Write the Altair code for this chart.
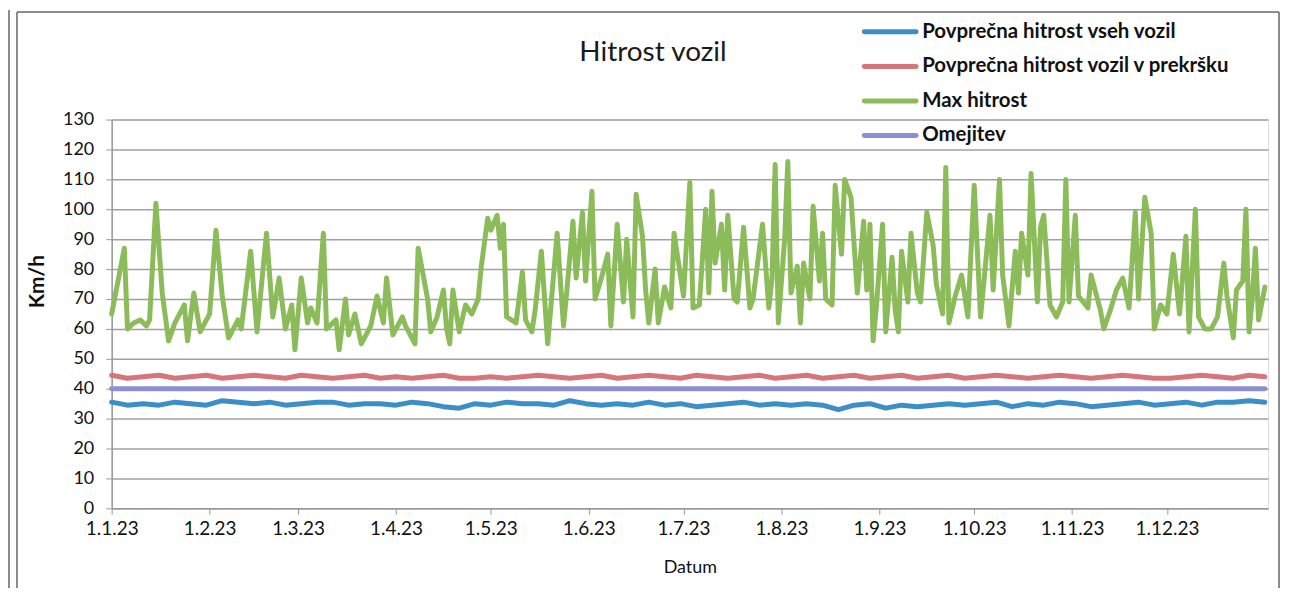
import altair as alt
import pandas as pd

# ---- data ----
chart_title = "Hitrost vozil"
series_names = [
    "Povprečna hitrost vseh vozil",
    "Povprečna hitrost vozil v prekršku",
    "Max hitrost",
    "Omejitev",
]
series_colors = ["#3b8ec8", "#d6767c", "#8cbc5a", "#8c8fd2"]

# (day of year offset from 1.1.23, km/h)
max_hitrost = [
    (0, 65), (4, 87), (5, 60), (7, 62), (9, 63), (11, 61), (12, 63), (14, 102), (16, 72), (18, 56),
    (20, 62), (23, 68), (24, 56), (26, 72), (28, 59), (31, 65), (33, 93), (35, 71), (37, 57), (40, 63),
    (41, 60), (44, 86), (46, 59), (49, 92), (51, 64), (53, 77), (55, 60), (57, 68), (58, 53), (60, 77),
    (62, 62), (63, 67), (65, 62), (67, 92), (68, 60), (71, 63), (72, 53), (74, 70), (75, 58), (77, 65),
    (79, 55), (82, 61), (84, 71), (86, 62), (87, 77), (89, 58), (92, 64), (93, 61), (96, 55), (97, 87),
    (100, 70), (101, 59), (103, 64), (105, 73), (106, 60), (107, 55), (108, 73), (110, 59), (112, 68), (114, 65),
    (116, 70), (117, 81), (119, 97), (120, 93), (122, 98), (123, 87), (124, 95), (125, 64), (128, 62), (130, 79),
    (131, 63), (133, 59), (134, 66), (136, 86), (138, 55), (141, 92), (143, 61), (144, 72), (146, 96), (147, 77),
    (149, 99), (150, 76), (152, 106), (153, 70), (155, 77), (157, 85), (158, 61), (160, 95), (162, 69), (163, 90),
    (165, 64), (166, 105), (168, 91), (169, 73), (170, 62), (172, 80), (173, 62), (175, 74), (177, 67), (178, 92),
    (181, 71), (183, 109), (184, 67), (186, 68), (188, 100), (189, 72), (190, 106), (191, 82), (193, 95), (194, 73),
    (195, 98), (197, 70), (198, 69), (200, 94), (202, 67), (203, 70), (206, 95), (208, 67), (209, 77), (210, 115),
    (211, 62), (213, 90), (214, 116), (215, 72), (217, 81), (218, 62), (219, 82), (221, 70), (222, 101), (224, 76),
    (225, 92), (226, 70), (228, 68), (229, 108), (231, 85), (232, 110), (234, 104), (236, 72), (238, 96), (239, 73),
    (240, 95), (241, 56), (242, 67), (244, 95), (245, 59), (247, 84), (248, 66), (249, 59), (250, 86), (252, 69),
    (253, 92), (255, 72), (256, 69), (258, 99), (260, 88), (261, 75), (263, 65), (264, 114), (265, 62), (267, 71),
    (269, 78), (271, 64), (273, 108), (275, 64), (276, 75), (278, 98), (279, 73), (281, 110), (282, 78), (284, 61),
    (286, 86), (287, 72), (288, 92), (290, 78), (291, 112), (293, 69), (294, 94), (295, 98), (297, 68), (299, 64),
    (301, 69), (302, 110), (303, 69), (305, 98), (306, 71), (309, 67), (310, 78), (313, 66), (314, 60), (316, 66),
    (318, 73), (320, 77), (322, 67), (324, 99), (325, 70), (327, 104), (329, 92), (330, 60), (332, 68), (334, 65),
    (336, 85), (338, 65), (340, 91), (341, 59), (343, 100), (344, 64), (346, 60), (348, 60), (350, 64), (352, 82),
    (353, 71), (355, 57), (356, 73), (358, 76), (359, 100), (360, 59), (361, 70), (362, 87), (363, 63), (365, 74),
]

avg_days = list(range(0, 361, 5)) + [365]
avg_all = [
    35.5, 34.5, 35, 34.5, 35.5, 35, 34.5, 36, 35.5, 35,
    35.5, 34.5, 35, 35.5, 35.5, 34.5, 35, 35, 34.5, 35.5,
    35, 34, 33.5, 35, 34.5, 35.5, 35, 35, 34.5, 36,
    35, 34.5, 35, 34.5, 35.5, 34.5, 35, 34, 34.5, 35,
    35.5, 34.5, 35, 34.5, 35, 34.5, 33, 34.5, 35, 33.5,
    34.5, 34, 34.5, 35, 34.5, 35, 35.5, 34, 35, 34.5,
    35.5, 35, 34, 34.5, 35, 35.5, 34.5, 35, 35.5, 34.5,
    35.5, 35.5, 36, 35.5,
]
avg_violation = [
    44.5, 43.5, 44, 44.5, 43.5, 44, 44.5, 43.5, 44, 44.5,
    44, 43.5, 44.5, 44, 43.5, 44, 44.5, 43.5, 44, 43.5,
    44, 44.5, 43.5, 43.5, 44, 43.5, 44, 44.5, 44, 43.5,
    44, 44.5, 43.5, 44, 44.5, 44, 43.5, 44.5, 44, 43.5,
    44, 44.5, 43.5, 44, 44.5, 43.5, 44, 44.5, 43.5, 44,
    44.5, 43.5, 44, 44.5, 43.5, 44, 44.5, 44, 43.5, 44,
    44.5, 44, 43.5, 44, 44.5, 44, 43.5, 43.5, 44, 44.5,
    44, 43.5, 44.5, 44,
]
limit_days = [0, 365]
limit_kmh = [40, 40]

month_ticks = ["2023-%02d-01" % m for m in range(1, 13)]
y_ticks = list(range(0, 131, 10))

# ---- build long table ----
start = pd.Timestamp("2023-01-01")


def to_date(d):
    return (start + pd.Timedelta(days=d)).strftime("%Y-%m-%d")


rows = []
for d, v in zip(avg_days, avg_all):
    rows.append({"datum": to_date(d), "kmh": v, "serija": series_names[0]})
for d, v in zip(avg_days, avg_violation):
    rows.append({"datum": to_date(d), "kmh": v, "serija": series_names[1]})
for d, v in max_hitrost:
    rows.append({"datum": to_date(d), "kmh": v, "serija": series_names[2]})
for d, v in zip(limit_days, limit_kmh):
    rows.append({"datum": to_date(d), "kmh": v, "serija": series_names[3]})
df = pd.DataFrame(rows)

legend_df = pd.DataFrame({"serija": series_names, "idx": list(range(len(series_names)))})

tick_ms = [int(pd.Timestamp(t, tz="UTC").value // 10**6) for t in month_ticks]
dom_start = int(pd.Timestamp("2023-01-01", tz="UTC").value // 10**6)
dom_end = int(pd.Timestamp("2024-01-02", tz="UTC").value // 10**6)

FONT = "Lato"
color_scale = alt.Scale(domain=series_names, range=series_colors)

lines = alt.Chart(df).mark_line(strokeCap="round", strokeJoin="round").encode(
    x=alt.X(
        "datum:T",
        scale=alt.Scale(type="utc", domain=[dom_start, dom_end]),
        axis=alt.Axis(
            title="Datum",
            values=tick_ms,
            format="%-d.%-m.%y",
            grid=False,
            tickSize=6,
            tickColor="#999999",
            domainColor="#999999",
            domainWidth=1.5,
            labelPadding=5,
            labelFlush=False,
            labelFont=FONT,
            labelFontSize=19,
            labelColor="#111111",
            titleFont=FONT,
            titleFontSize=18,
            titleFontWeight="normal",
            titleColor="#111111",
            titleY=59,
            titleBaseline="middle",
        ),
    ),
    y=alt.Y(
        "kmh:Q",
        scale=alt.Scale(domain=[0, 130], nice=False, zero=True),
        axis=alt.Axis(
            title="Km/h",
            values=y_ticks,
            grid=True,
            gridColor="#a0a0a0",
            gridWidth=1.5,
            tickSize=6,
            tickColor="#999999",
            domainColor="#999999",
            domainWidth=1.5,
            labelPadding=12,
            labelFont=FONT,
            labelFontSize=18,
            labelColor="#111111",
            titleFont=FONT,
            titleFontSize=21,
            titleFontWeight="bold",
            titleColor="#111111",
            titleAngle=270,
            titleX=-74,
            titleY=162,
            titleAlign="center",
            titleBaseline="middle",
        ),
    ),
    color=alt.Color("serija:N", scale=color_scale, legend=None),
    strokeWidth=alt.StrokeWidth(
        "serija:N",
        scale=alt.Scale(domain=series_names, range=[5, 5, 4, 5]),
        legend=None,
    ),
    order=alt.Order("datum:T"),
)

# legend (key lines + labels), rows placed by their own scale
legend_y = alt.Y("idx:Q", scale=alt.Scale(domain=[0, 3], range=[-88, 16]), axis=None)
legend_keys = alt.Chart(legend_df).mark_rule(strokeWidth=5, strokeCap="round").encode(
    x=alt.value(755),
    x2=alt.value(807),
    y=legend_y,
    color=alt.Color("serija:N", scale=color_scale, legend=None),
)
legend_labels = alt.Chart(legend_df).mark_text(
    font=FONT, fontSize=20.5, fontWeight="bold", color="#111111", align="left", baseline="middle"
).encode(x=alt.value(813), y=legend_y, text="serija:N")

one_row = pd.DataFrame({"t": [chart_title]})
title_mark = alt.Chart(one_row).mark_text(
    font=FONT, fontSize=28, color="#1a1a1a", align="center", baseline="middle"
).encode(x=alt.value(543), y=alt.value(-67), text="t:N")

frame_color = "#666666"
left1 = alt.Chart(one_row).mark_rule(color=frame_color, strokeWidth=1.5).encode(
    x=alt.value(-103), y=alt.value(-110), y2=alt.value(470)
)
left2 = alt.Chart(one_row).mark_rule(color=frame_color, strokeWidth=1.5).encode(
    x=alt.value(-95), y=alt.value(-108), y2=alt.value(470)
)
top = alt.Chart(one_row).mark_rule(color=frame_color, strokeWidth=1.5).encode(
    x=alt.value(-95), x2=alt.value(1171), y=alt.value(-108)
)
right = alt.Chart(one_row).mark_rule(color=frame_color, strokeWidth=1.5).encode(
    x=alt.value(1171), y=alt.value(-108), y2=alt.value(470)
)

chart = (
    alt.layer(left1, left2, top, right, title_mark, lines, legend_keys, legend_labels)
    .resolve_scale(y="independent")
    .properties(
        width=1160,
        height=390,
        autosize=alt.AutoSizeParams(type="none"),
        padding={"left": 104, "top": 111, "right": 14, "bottom": 80},
    )
    .configure_view(strokeWidth=0)
    .configure(background="white")
)

chart.save("out.html", embed_options={"renderer": "svg", "actions": False})
